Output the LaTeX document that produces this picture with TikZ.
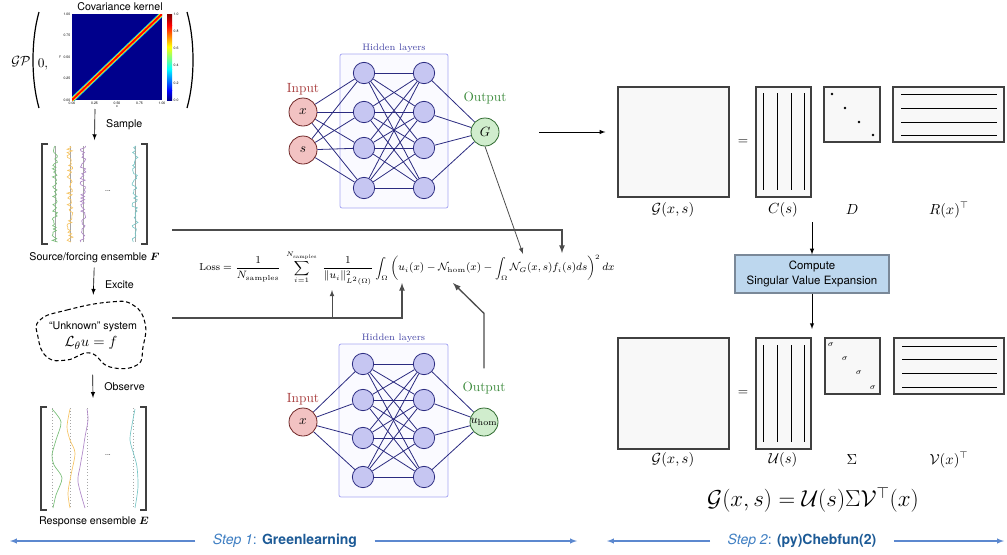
\documentclass[tikz,border=0pt]{standalone}
\usepackage{amsmath,amssymb,bm}
\usepackage{fontspec}
\setsansfont{TeX Gyre Heros}
\usetikzlibrary{positioning, arrows, calc}
\definecolor{nnEdge}{HTML}{2B2B80}
\definecolor{nnHid}{HTML}{C6C6F2}
\definecolor{nnIn}{HTML}{F2C2C2}
\definecolor{nnInDraw}{HTML}{6E2626}
\definecolor{nnOut}{HTML}{D0EDCD}
\definecolor{nnOutDraw}{HTML}{2F6A2F}
\definecolor{inText}{HTML}{A83C3C}
\definecolor{outText}{HTML}{3D8B3D}
\definecolor{hidText}{HTML}{4646A6}
\definecolor{hidBox}{HTML}{A6A6F2}
\definecolor{stepArrow}{HTML}{5C88CF}
\definecolor{stepLight}{HTML}{3E7EC2}
\definecolor{stepDark}{HTML}{1C5A96}
\definecolor{svdFill}{HTML}{BDD7EE}
\definecolor{svdDraw}{HTML}{7A8898}
\definecolor{matFill}{HTML}{F8F8F8}
\definecolor{jetDark}{HTML}{00008C}
\definecolor{ensGreen}{HTML}{78BE78}
\definecolor{ensOrange}{HTML}{F6C464}
\definecolor{ensPurple}{HTML}{B088C8}
\definecolor{ensTeal}{HTML}{78C6C6}
\tikzset{
  font=\sffamily\fontsize{8}{9.6}\selectfont,
  blk/.style={inner sep=0pt, outer sep=0pt},
  lbl/.style={font=\sffamily\fontsize{8}{9.6}\selectfont},
  tick/.style={font=\sffamily\fontsize{2.6}{3}\selectfont, inner sep=0.3pt},
  hidbox/.style={draw=hidBox, fill=blue!2, rounded corners=1.5pt, line width=0.6pt},
  hidlbl/.style={font=\rmfamily\fontsize{7}{8}\selectfont, text=hidText, inner sep=1pt},
  hid/.style={circle, draw=nnEdge, fill=nnHid, minimum size=16pt, inner sep=0pt, line width=0.6pt},
  inp/.style={circle, draw=nnInDraw, fill=nnIn, minimum size=21pt, inner sep=0pt, line width=0.6pt, font=\fontsize{10}{12}\selectfont},
  outp/.style={circle, draw=nnOutDraw, fill=nnOut, minimum size=21pt, inner sep=0pt, line width=0.6pt, font=\fontsize{10}{12}\selectfont},
  inlbl/.style={font=\rmfamily\fontsize{10}{12}\selectfont, text=inText, inner sep=1pt},
  outlbl/.style={font=\rmfamily\fontsize{10}{12}\selectfont, text=outText, inner sep=1pt},
  edge/.style={draw=nnEdge, line width=0.6pt},
  feed/.style={draw=black!70, line width=1pt, -latex},
  thinarrow/.style={line width=0.5pt, -latex},
  ens/.style={line width=0.5pt},
  mat/.style={draw=black!75, fill=matFill, line width=0.8pt, inner sep=0pt},
  matlbl/.style={font=\fontsize{10.5}{12}\selectfont},
  svd/.style={draw=svdDraw, fill=svdFill, line width=0.8pt, align=center, minimum width=115.5pt, minimum height=28.5pt, font=\sffamily\fontsize{8.6}{11}\selectfont},
  stepnote/.style={inner xsep=13pt, font=\sffamily\fontsize{10.5}{12}\selectfont},
  steparrow/.style={draw=stepArrow, line width=0.8pt, -latex}
}

\begin{document}
\begin{tikzpicture}[x=0.75pt, y=-0.75pt]
  \useasboundingbox (0,0) rectangle (1007,554);

  % Gaussian process prior
  \node[blk, minimum width=138pt, minimum height=75pt] (gp) at (95,59) {};
  \node[font=\fontsize{10}{12}\selectfont] (gpname) at (21,62) {$\mathcal{GP}$};
  \node[font=\fontsize{10}{12}\selectfont] (gpzero) at (43,64) {$0,$};
  \draw[line width=0.9pt] (39,12) .. controls (31,40) and (31,80) .. (39,108);
  \draw[line width=0.9pt] (187,12) .. controls (195,40) and (195,80) .. (187,108);
  \node[lbl] (covtitle) at (120,7) {Covariance kernel};
  \begin{scope}
    \clip (72,14) rectangle (162,100);
    \fill[jetDark] (72,14) rectangle (162,100);
    \draw[cyan, line width=3.8pt] (72,100) -- (162,14);
    \draw[yellow, line width=2.6pt] (72,100) -- (162,14);
    \draw[red, line width=1.4pt] (72,100) -- (162,14);
  \end{scope}
  \shade[bottom color=jetDark, top color=blue] (167,90.5) rectangle (172,100);
  \shade[bottom color=blue, top color=cyan] (167,69) rectangle (172,90.5);
  \shade[bottom color=cyan, top color=yellow] (167,46.7) rectangle (172,69);
  \shade[bottom color=yellow, top color=red] (167,25.2) rectangle (172,46.7);
  \shade[bottom color=red, top color=red!50!black] (167,14) rectangle (172,25.2);
  \foreach \v/\y in {1.00/14,0.75/35.5,0.50/57,0.25/78.5,0.00/100}
    \node[tick, anchor=east] at (71,\y) {\v};
  \foreach \v/\x in {0.00/72,0.25/94.5,0.50/117,0.75/139.5,1.00/162}
    \node[tick, anchor=north] at (\x,101) {\v};
  \foreach \v/\y in {1.0/14,0.8/31.2,0.6/48.4,0.4/65.6,0.2/82.8,0.0/100}
    \node[tick, anchor=west] at (173,\y) {\v};
  \node[tick] at (117,107) {x};
  \node[tick] at (60,57) {y};

  % source ensemble
  \node[blk, minimum width=78.75pt, minimum height=75pt] (ensF) at (94.5,194) {};
  \draw[black!75, line width=0.9pt] (48,144) -- (42,144) -- (42,244) -- (48,244);
  \draw[black!75, line width=0.9pt] (141,144) -- (147,144) -- (147,244) -- (141,244);
  \pgfmathsetseed{11}
  \foreach \cx/\cc in {55/ensGreen,70/ensOrange,83/ensPurple,135/ensTeal} {
    \draw[gray!70, line width=0.3pt] (\cx,146) -- (\cx,242);
    \draw[\cc, ens] plot[variable=\t, domain=146:242, samples=60] ({\cx+3*rand},{\t});
  }
  \node[font=\sffamily\fontsize{5}{6}\selectfont] at (108,191) {...};
  \node[lbl, below=3pt of ensF] (labF) {Source/forcing ensemble $\bm{F}$};
  \draw[thinarrow] (gp.south) -- node[lbl, right=5pt] {Sample} ([yshift=3pt]ensF.north);

  % unknown system
  \node[blk, minimum width=82pt, minimum height=49pt] (sys) at (92,334) {};
  \draw[dashed, dash pattern=on 3pt off 2pt, line width=0.8pt] plot[smooth cycle, tension=0.8]
    coordinates {(40,320) (67,310) (110,302) (133,305) (145,323) (143,347) (137,365) (110,367) (90,353) (67,360) (47,357) (38,337)};
  \node[lbl] (systxt) at (93,327) {“Unknown” system};
  \node[font=\fontsize{11}{13}\selectfont] (syseq) at (91,343) {$\mathcal{L}_\theta u = f$};
  \draw[thinarrow, shorten >=5pt] (labF) -- node[lbl, right=5pt] {Excite} (sys);

  % response ensemble
  \node[blk, minimum width=78.75pt, minimum height=77pt] (ensE) at (94,458.5) {};
  \draw[black!75, line width=0.9pt] (47,407) -- (41,407) -- (41,510) -- (47,510);
  \draw[black!75, line width=0.9pt] (140,407) -- (146,407) -- (146,510) -- (140,510);
  \foreach \cx in {52,70,87,133}
    \draw[gray!70, dotted, line width=0.3pt] (\cx,408) -- (\cx,509);
  \draw[ensGreen, ens] plot[smooth] coordinates {(52,409) (61,422) (56,440) (52,455) (54,465) (62,478) (56,495) (53,508)};
  \draw[ensOrange, ens] plot[smooth] coordinates {(70,409) (67,427) (70,440) (75,453) (71,475) (68,493) (70,508)};
  \draw[ensPurple, ens] plot[smooth] coordinates {(87,409) (88,420) (85,437) (83,450) (80,467) (78,482) (85,508)};
  \draw[ensTeal, ens] plot[smooth] coordinates {(135,409) (132,425) (130,440) (134,455) (137,467) (138,487) (135,508)};
  \node[font=\sffamily\fontsize{5}{6}\selectfont] at (108,455) {...};
  \node[lbl, below=2pt of ensE] (labE) {Response ensemble $\bm{E}$};
  \draw[thinarrow, shorten <=6pt, shorten >=7pt] (sys) -- node[lbl, right=5pt] {Observe} (ensE);

  % network for G
  \node[hidbox, minimum width=81pt, minimum height=115.5pt] (hbox1) at (394,131) {};
  \node[hidlbl, above=0pt of hbox1] (hlab1) {Hidden layers};
  \foreach \i/\y in {1/73,2/112,3/148,4/188} {
    \node[hid] (a\i) at (364,\y) {};
    \node[hid] (b\i) at (424,\y) {};
  }
  \node[inp] (x1) at (303,112) {$x$};
  \node[inp] (s1) at (303,150) {$s$};
  \node[outp] (G) at (485,132) {$G$};
  \node[inlbl, above=1pt of x1] (inlab1) {Input};
  \node[outlbl, above=9pt of G] (outlab1) {Output};
  \foreach \i in {1,...,4} {
    \draw[edge] (x1) -- (a\i);
    \draw[edge] (s1) -- (a\i);
    \draw[edge] (b\i) -- (G);
    \foreach \j in {1,...,4}
      \draw[edge] (a\i) -- (b\j);
  }

  % network for u_hom
  \node[hidbox, minimum width=81.75pt, minimum height=114.75pt] (hbox2) at (393.5,420.5) {};
  \node[hidlbl, above=0pt of hbox2] (hlab2) {Hidden layers};
  \foreach \i/\y in {1/364,2/400,3/438,4/477} {
    \node[hid] (c\i) at (363,\y) {};
    \node[hid] (d\i) at (424,\y) {};
  }
  \node[inp] (x2) at (303,422) {$x$};
  \node[outp, font=\fontsize{9.5}{11}\selectfont] (uhom) at (484,422) {$u_{\mathrm{hom}}$};
  \node[inlbl, above=1pt of x2] (inlab2) {Input};
  \node[outlbl, above=9pt of uhom] (outlab2) {Output};
  \foreach \i in {1,...,4} {
    \draw[edge] (x2) -- (c\i);
    \draw[edge] (d\i) -- (uhom);
    \foreach \j in {1,...,4}
      \draw[edge] (c\i) -- (d\j);
  }

  % loss
  \node[font=\fontsize{7.6}{9}\selectfont] (loss) at (407,268)
    {$\displaystyle \mathrm{Loss}=\frac{1}{N_{\mathrm{samples}}}\;\sum_{i=1}^{N_{\mathrm{samples}}}\;\frac{1}{\|u_i\|^2_{L^2(\Omega)}}\int_\Omega\left(u_i(x)-\mathcal{N}_{\mathrm{hom}}(x)-\int_\Omega\mathcal{N}_G(x,s)f_i(s)ds\right)^2dx$};
  \coordinate (srcout) at (172,230);
  \coordinate (sysout) at (172,318);
  \coordinate (lossfi) at (562,253);
  \coordinate (lossNG) at (523,254);
  \coordinate (lossNhom) at (453,283);
  \coordinate (lossui) at (402,283);
  \coordinate (lossnorm) at (332,290);
  \draw[feed] (srcout) -| (lossfi);
  \draw[feed, line width=0.6pt] (G.south) -- (lossNG);
  \draw[feed] (sysout) -| (lossui);
  \draw[feed, line width=0.6pt] (lossnorm |- sysout) -- (lossnorm);
  \draw[feed] ([yshift=9pt]outlab2.north) -- ++(0,-55) -- (lossNhom);

  % low-rank approximation of G
  \draw[thinarrow] ([xshift=30pt]G.east) -- ++(66,0);
  \node[mat, minimum width=83.25pt, minimum height=82.5pt] (Gmat) at (673.5,142) {};
  \node[font=\fontsize{10}{12}\selectfont] (eq1) at (743,142) {$=$};
  \node[mat, minimum width=41.25pt, minimum height=82.5pt] (Cmat) at (783.5,142) {};
  \node[mat, minimum width=42pt, minimum height=41.25pt] (Dmat) at (852,114.5) {};
  \node[mat, minimum width=83.25pt, minimum height=41.25pt] (Rmat) at (948.5,114.5) {};
  \foreach \x in {763,777,791,804}
    \draw[line width=0.7pt] (\x,93) -- (\x,190);
  \foreach \y in {94,108,122,135}
    \draw[line width=0.7pt] (901,\y) -- (997,\y);
  \foreach \x/\y in {832/94,845/108,859/122,873/135}
    \fill (\x,\y) circle (1.1pt);
  \node[matlbl] (Glab) at (673,210) {$\mathcal{G}(x,s)$};
  \node[matlbl] (Clab) at (783,210) {$C(s)$};
  \node[matlbl] (Dlab) at (852,210) {$D$};
  \node[matlbl] (Rlab) at (949,210) {$R(x)^\top$};

  \node[svd] (svd) at (812,274) {Compute\\Singular Value Expansion};
  \coordinate (svdin) at (812,222);
  \coordinate (svdout) at (812,329);
  \draw[thinarrow] (svdin) -- (svd);
  \draw[thinarrow] (svd) -- (svdout);

  % singular value expansion
  \node[mat, minimum width=83.25pt, minimum height=83.25pt] (Gmat2) at (673.5,393.5) {};
  \node[font=\fontsize{10}{12}\selectfont] (eq2) at (743,393) {$=$};
  \node[mat, minimum width=41.25pt, minimum height=83.25pt] (Umat) at (783.5,393.5) {};
  \node[mat, minimum width=41.25pt, minimum height=42pt] (Smat) at (852.5,366) {};
  \node[mat, minimum width=82.5pt, minimum height=42pt] (Vmat) at (949,366) {};
  \foreach \x in {763,777,791,804}
    \draw[line width=0.7pt] (\x,345) -- (\x,442);
  \foreach \y in {346,359,373,387}
    \draw[line width=0.7pt] (902,\y) -- (997,\y);
  \foreach \x/\y in {831/345,845/359,859/373,873/388}
    \node[font=\fontsize{6}{7}\selectfont, inner sep=0pt] at (\x,\y) {$\sigma$};
  \node[matlbl] (Glab2) at (673,460) {$\mathcal{G}(x,s)$};
  \node[matlbl] (Ulab) at (783,460) {$\mathcal{U}(s)$};
  \node[matlbl] (Slab) at (852,460) {$\Sigma$};
  \node[matlbl] (Vlab) at (949,460) {$\mathcal{V}(x)^\top$};
  \node[font=\fontsize{17}{20}\selectfont] (svdeq) at (813,500) {$\mathcal{G}(x,s)=\mathcal{U}(s)\Sigma\mathcal{V}^\top(x)$};

  % steps
  \node[stepnote] (step1) at (285,541) {{\color{stepLight}\textit{Step 1}:} {\color{stepDark}\textbf{Greenlearning}}};
  \coordinate (s1l) at (10,541);
  \coordinate (s1r) at (577,541);
  \draw[steparrow] (step1) -- (s1l);
  \draw[steparrow] (step1) -- (s1r);
  \node[stepnote] (step2) at (802,541) {{\color{stepLight}\textit{Step 2}:} {\color{stepDark}\textbf{(py)Chebfun(2)}}};
  \coordinate (s2l) at (607,541);
  \coordinate (s2r) at (1004,541);
  \draw[steparrow] (step2) -- (s2l);
  \draw[steparrow] (step2) -- (s2r);
\end{tikzpicture}
\end{document}
